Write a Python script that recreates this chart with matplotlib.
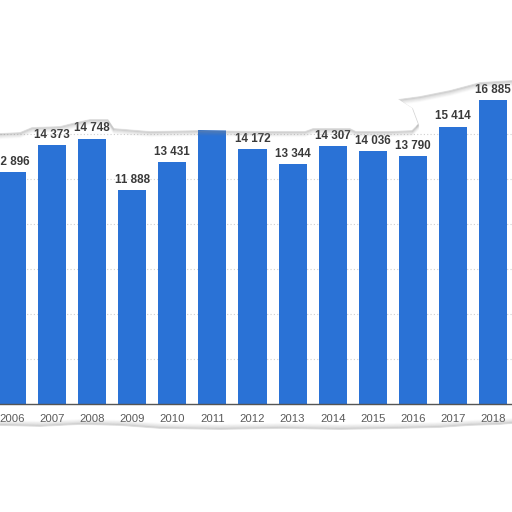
import matplotlib
matplotlib.use("Agg")
import matplotlib.pyplot as plt
from matplotlib.patches import Polygon
import numpy as np

years = ["2006", "2007", "2008", "2009", "2010", "2011", "2012",
         "2013", "2014", "2015", "2016", "2017", "2018"]
values = [12896, 14373, 14748, 11888, 13431, 15200, 14172,
          13344, 14307, 14036, 13790, 15414, 16885]

BAR = "#2a72d6"
W = H = 512

fig = plt.figure(figsize=(5.12, 5.12), dpi=100)
fig.patch.set_facecolor("white")
ax = fig.add_axes([0, (512 - 404) / 512, 1, 404 / 512])
ax.set_facecolor("white")

x = np.arange(len(years))
ax.bar(x, values, width=0.7, color=BAR, zorder=3)
for xi, v in zip(x, values):
    s = f"{v:,}".replace(",", " ")
    ax.annotate(s, (xi, v), xytext=(0, 3), textcoords="offset points",
                ha="center", va="bottom", fontsize=8.4, fontweight="bold",
                family="Liberation Sans", color="#3a3a3a", zorder=4)

ax.set_xlim(-0.2994, 12.475)
ax.set_ylim(0, 404 * 2500 / 45)
ax.set_yticks([2500, 5000, 7500, 10000, 12500, 15000])
ax.yaxis.grid(True, linestyle=(0, (1, 2)), color="#cfcfcf", linewidth=0.8, zorder=0)
ax.tick_params(axis="y", left=False, labelleft=False)
ax.set_xticks(x)
ax.set_xticklabels(years, fontsize=8.2, family="Liberation Sans", color="#5a5a5a")
ax.tick_params(axis="x", length=0, pad=7)
for side in ["top", "left", "right"]:
    ax.spines[side].set_visible(False)
ax.spines["bottom"].set_color("#555555")
ax.spines["bottom"].set_linewidth(1.0)
ax.spines["bottom"].set_zorder(5)

# torn paper edges (pixel coords from top)
top_edge = [(0, 133), (20, 132), (32, 127), (60, 126), (72, 123), (90, 119),
            (108, 119), (114, 128), (150, 131), (200, 130), (260, 131),
            (305, 131), (313, 128), (350, 128), (356, 131),
            (390, 131), (412, 130), (418, 124), (412, 108), (398, 99),
            (420, 96), (450, 90), (480, 82), (512, 80)]
bot_edge = [(0, 426), (40, 427), (80, 425), (120, 426), (160, 429),
            (220, 430), (280, 429), (340, 430), (400, 429), (440, 428),
            (470, 426), (500, 425), (512, 424)]

def to_fig(pts):
    return [(px / W, 1 - py / H) for px, py in pts]

# shadows
for off, a in [(1, 0.25), (2, 0.16), (3, 0.1), (4, 0.07), (5, 0.04)]:
    fig.add_artist(plt.Line2D([p[0] / W for p in top_edge],
                              [1 - (p[1] + off) / H for p in top_edge],
                              color="#888888", alpha=a, lw=1.6, zorder=9))
    fig.add_artist(plt.Line2D([p[0] / W for p in bot_edge],
                              [1 - (p[1] - off) / H for p in bot_edge],
                              color="#888888", alpha=a, lw=1.6, zorder=9))

top_poly = to_fig(top_edge) + [(1, 1), (0, 1)]
bot_poly = to_fig(bot_edge) + [(1, 0), (0, 0)]
fig.add_artist(Polygon(top_poly, closed=True, facecolor="white", edgecolor="none",
                       transform=fig.transFigure, zorder=10))
fig.add_artist(Polygon(bot_poly, closed=True, facecolor="white", edgecolor="none",
                       transform=fig.transFigure, zorder=10))

fig.savefig("out.png", dpi=100, facecolor="white")
